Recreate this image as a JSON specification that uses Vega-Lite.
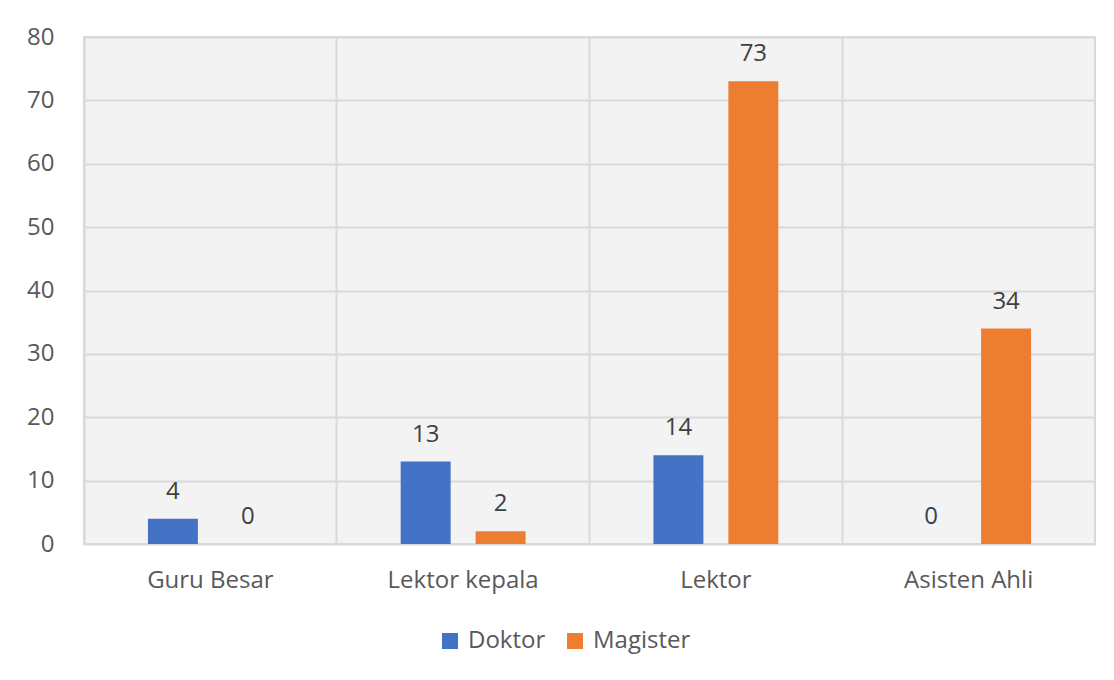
{
  "$schema": "https://vega.github.io/schema/vega-lite/v6.json",
  "autosize": {"type": "none"},
  "width": 1011,
  "height": 507,
  "padding": {"left": 84, "top": 37, "right": 19, "bottom": 136},
  "background": "white",
  "config": {
    "font": "Open Sans",
    "view": {"fill": "#f3f3f3", "stroke": "#d9d9d9", "strokeWidth": 2}
  },
  "data": {
    "values": [
      {"kategori": "Guru Besar", "jenjang": "Doktor", "jumlah": 4},
      {"kategori": "Guru Besar", "jenjang": "Magister", "jumlah": 0},
      {"kategori": "Lektor kepala", "jenjang": "Doktor", "jumlah": 13},
      {"kategori": "Lektor kepala", "jenjang": "Magister", "jumlah": 2},
      {"kategori": "Lektor", "jenjang": "Doktor", "jumlah": 14},
      {"kategori": "Lektor", "jenjang": "Magister", "jumlah": 73},
      {"kategori": "Asisten Ahli", "jenjang": "Doktor", "jumlah": 0},
      {"kategori": "Asisten Ahli", "jenjang": "Magister", "jumlah": 34}
    ]
  },
  "encoding": {
    "x": {
      "field": "kategori",
      "type": "nominal",
      "sort": ["Guru Besar", "Lektor kepala", "Lektor", "Asisten Ahli"],
      "scale": {"paddingInner": 0, "paddingOuter": 0},
      "axis": {
        "title": null,
        "labelAngle": 0,
        "labelFontSize": 24,
        "labelColor": "#595959",
        "labelPadding": 24,
        "ticks": false,
        "domain": false,
        "grid": true,
        "bandPosition": 0,
        "gridColor": "#d9d9d9",
        "gridWidth": 2
      }
    },
    "xOffset": {
      "field": "jenjang",
      "type": "nominal",
      "sort": ["Doktor", "Magister"],
      "scale": {"paddingInner": 0.3333, "paddingOuter": 0.853}
    },
    "y": {
      "field": "jumlah",
      "type": "quantitative",
      "scale": {"domain": [0, 80], "nice": false},
      "axis": {
        "title": null,
        "values": [0, 10, 20, 30, 40, 50, 60, 70, 80],
        "labelFontSize": 24,
        "labelColor": "#595959",
        "labelPadding": 30,
        "ticks": false,
        "domain": false,
        "gridColor": "#d9d9d9",
        "gridWidth": 2
      }
    }
  },
  "layer": [
    {
      "mark": {"type": "bar"},
      "encoding": {
        "color": {
          "field": "jenjang",
          "type": "nominal",
          "sort": ["Doktor", "Magister"],
          "scale": {"domain": ["Doktor", "Magister"], "range": ["#4472c4", "#ed7d31"]},
          "legend": {
            "title": null,
            "orient": "none",
            "direction": "horizontal",
            "legendX": 354,
            "legendY": 592,
            "symbolType": "square",
            "symbolSize": 256,
            "symbolStrokeWidth": 0,
            "symbolOpacity": 1,
            "labelFontSize": 24,
            "labelColor": "#595959",
            "labelOffset": 6,
            "columnPadding": 17
          }
        }
      }
    },
    {
      "mark": {"type": "text", "fontSize": 24, "color": "#404040", "baseline": "middle", "dy": -27},
      "encoding": {
        "text": {"field": "jumlah", "type": "quantitative"}
      }
    }
  ]
}
